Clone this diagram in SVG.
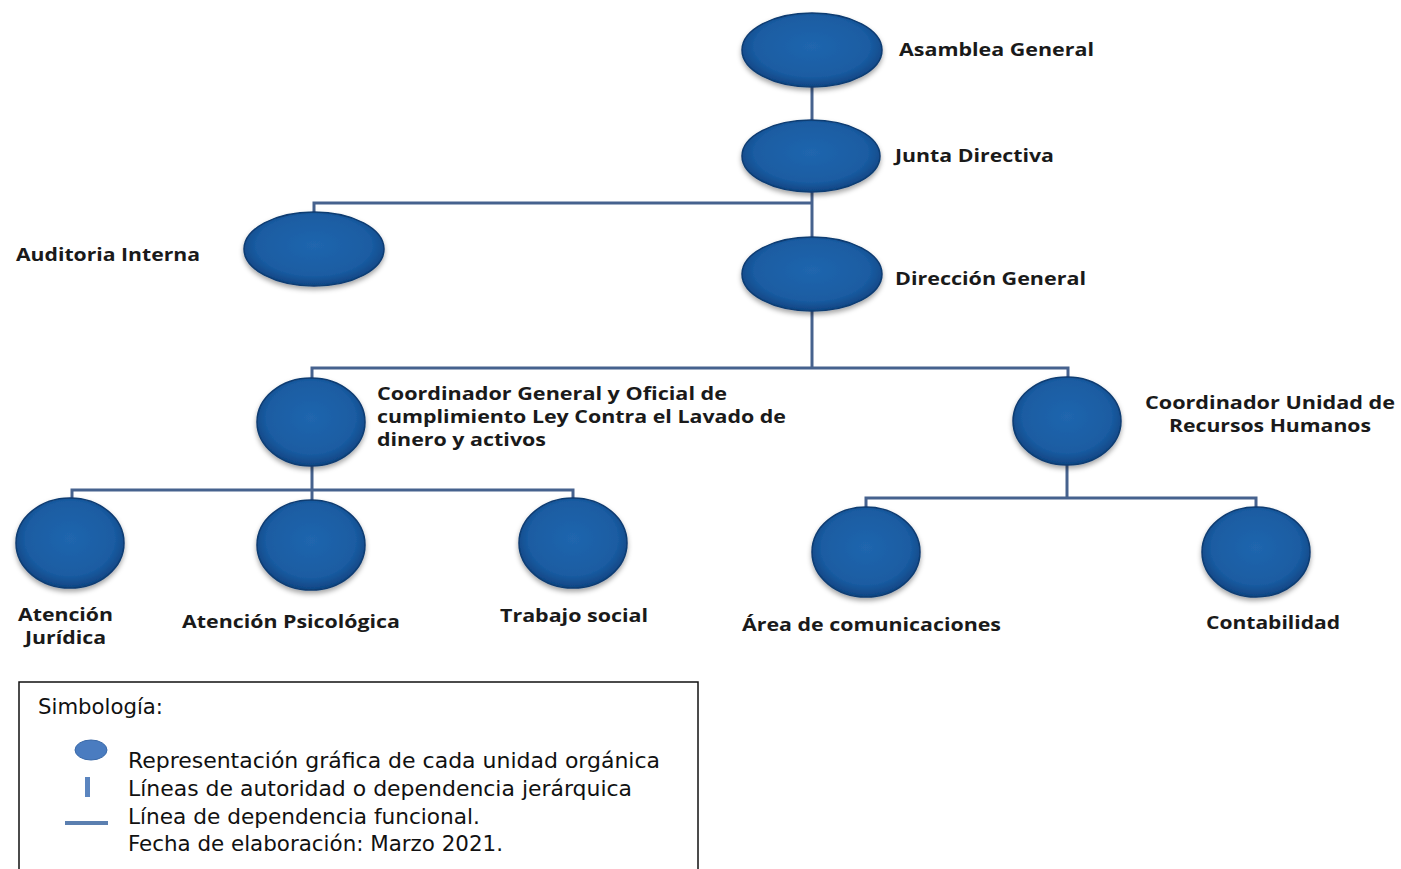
<svg xmlns="http://www.w3.org/2000/svg" width="1401" height="869" viewBox="0 0 1401 869">
<defs>
<radialGradient id="g" cx="50%" cy="45%" r="55%">
<stop offset="0" stop-color="#2066ae"/>
<stop offset="0.75" stop-color="#1a5ca2"/>
<stop offset="1" stop-color="#0f4583"/>
</radialGradient>
<filter id="sh" x="-20%" y="-20%" width="140%" height="150%">
<feDropShadow dx="0" dy="3" stdDeviation="2.5" flood-color="#000" flood-opacity="0.35"/>
</filter>
<style>
.n{fill:url(#g);stroke:#0e3c72;stroke-width:1.5;filter:url(#sh)}
.t{font-family:"Open Sans","Liberation Sans",sans-serif;font-weight:bold;font-size:18px;fill:#1a1a1a}
.c{fill:none;stroke:#46628e;stroke-width:3}
.l{font-family:"DejaVu Sans Condensed","Roboto",sans-serif;font-size:21px;fill:#111}
</style>
</defs>
<rect width="1401" height="869" fill="#fff"/>
<g id="connectors">
<path class="c" d="M812 87V120"/>
<path class="c" d="M812 192V238"/>
<path class="c" d="M812 203H314V213"/>
<path class="c" d="M812 311V368"/>
<path class="c" d="M312 378V368H1068V377"/>
<path class="c" d="M312 466V500"/>
<path class="c" d="M72 498V490H573V498"/>
<path class="c" d="M1067 465V498"/>
<path class="c" d="M866 507V498H1256V507"/>
</g>
<g id="asamblea">
<ellipse class="n" cx="812" cy="50" rx="70" ry="37"/>
<text class="t" x="899" y="56" textLength="195" lengthAdjust="spacingAndGlyphs">Asamblea General</text>
</g>
<g id="junta">
<ellipse class="n" cx="811" cy="156" rx="69" ry="36"/>
<text class="t" x="895" y="162" textLength="159" lengthAdjust="spacingAndGlyphs">Junta Directiva</text>
</g>
<g id="auditoria">
<ellipse class="n" cx="314" cy="249" rx="70" ry="37"/>
<text class="t" x="16" y="261" textLength="184" lengthAdjust="spacingAndGlyphs">Auditoria Interna</text>
</g>
<g id="direccion">
<ellipse class="n" cx="812" cy="274" rx="70" ry="37"/>
<text class="t" x="895" y="285" textLength="191" lengthAdjust="spacingAndGlyphs">Dirección General</text>
</g>
<g id="coord-general">
<ellipse class="n" cx="311" cy="422" rx="54" ry="44"/>
<text class="t" x="377" y="400" textLength="350" lengthAdjust="spacingAndGlyphs">Coordinador General y Oficial de</text>
<text class="t" x="377" y="423" textLength="409" lengthAdjust="spacingAndGlyphs">cumplimiento Ley Contra el Lavado de</text>
<text class="t" x="377" y="446" textLength="169" lengthAdjust="spacingAndGlyphs">dinero y activos</text>
</g>
<g id="coord-rrhh">
<ellipse class="n" cx="1067" cy="421" rx="54" ry="44"/>
<text class="t" x="1145" y="409" textLength="250" lengthAdjust="spacingAndGlyphs">Coordinador Unidad de</text>
<text class="t" x="1169" y="432" textLength="202" lengthAdjust="spacingAndGlyphs">Recursos Humanos</text>
</g>
<g id="juridica">
<ellipse class="n" cx="70" cy="543" rx="54" ry="45"/>
<text class="t" x="18" y="621" textLength="95" lengthAdjust="spacingAndGlyphs">Atención</text>
<text class="t" x="25" y="644" textLength="81" lengthAdjust="spacingAndGlyphs">Jurídica</text>
</g>
<g id="psicologica">
<ellipse class="n" cx="311" cy="545" rx="54" ry="45"/>
<text class="t" x="182" y="628" textLength="218" lengthAdjust="spacingAndGlyphs">Atención Psicológica</text>
</g>
<g id="trabajo">
<ellipse class="n" cx="573" cy="543" rx="54" ry="45"/>
<text class="t" x="500" y="622" textLength="148" lengthAdjust="spacingAndGlyphs">Trabajo social</text>
</g>
<g id="comunicaciones">
<ellipse class="n" cx="866" cy="552" rx="54" ry="45"/>
<text class="t" x="742" y="631" textLength="259" lengthAdjust="spacingAndGlyphs">Área de comunicaciones</text>
</g>
<g id="contabilidad">
<ellipse class="n" cx="1256" cy="552" rx="54" ry="45"/>
<text class="t" x="1206" y="629" textLength="134" lengthAdjust="spacingAndGlyphs">Contabilidad</text>
</g>
<g id="legend">
<rect x="19" y="682" width="679" height="200" fill="#fff" stroke="#111" stroke-width="1.5"/>
<text class="l" x="38" y="714" textLength="125" lengthAdjust="spacingAndGlyphs">Simbología:</text>
<ellipse cx="91" cy="750" rx="16" ry="10" fill="#4a7cc0" stroke="#3a69a8" stroke-width="1"/>
<rect x="85" y="777" width="5" height="20" fill="#5b85bf"/>
<rect x="65" y="821" width="43" height="4" fill="#5b7fb0"/>
<text class="l" x="128" y="768" textLength="532" lengthAdjust="spacingAndGlyphs">Representación gráfica de cada unidad orgánica</text>
<text class="l" x="128" y="796" textLength="504" lengthAdjust="spacingAndGlyphs">Líneas de autoridad o dependencia  jerárquica</text>
<text class="l" x="128" y="824" textLength="352" lengthAdjust="spacingAndGlyphs">Línea de dependencia  funcional.</text>
<text class="l" x="128" y="851" textLength="375" lengthAdjust="spacingAndGlyphs">Fecha de elaboración:  Marzo 2021.</text>
</g>
</svg>
